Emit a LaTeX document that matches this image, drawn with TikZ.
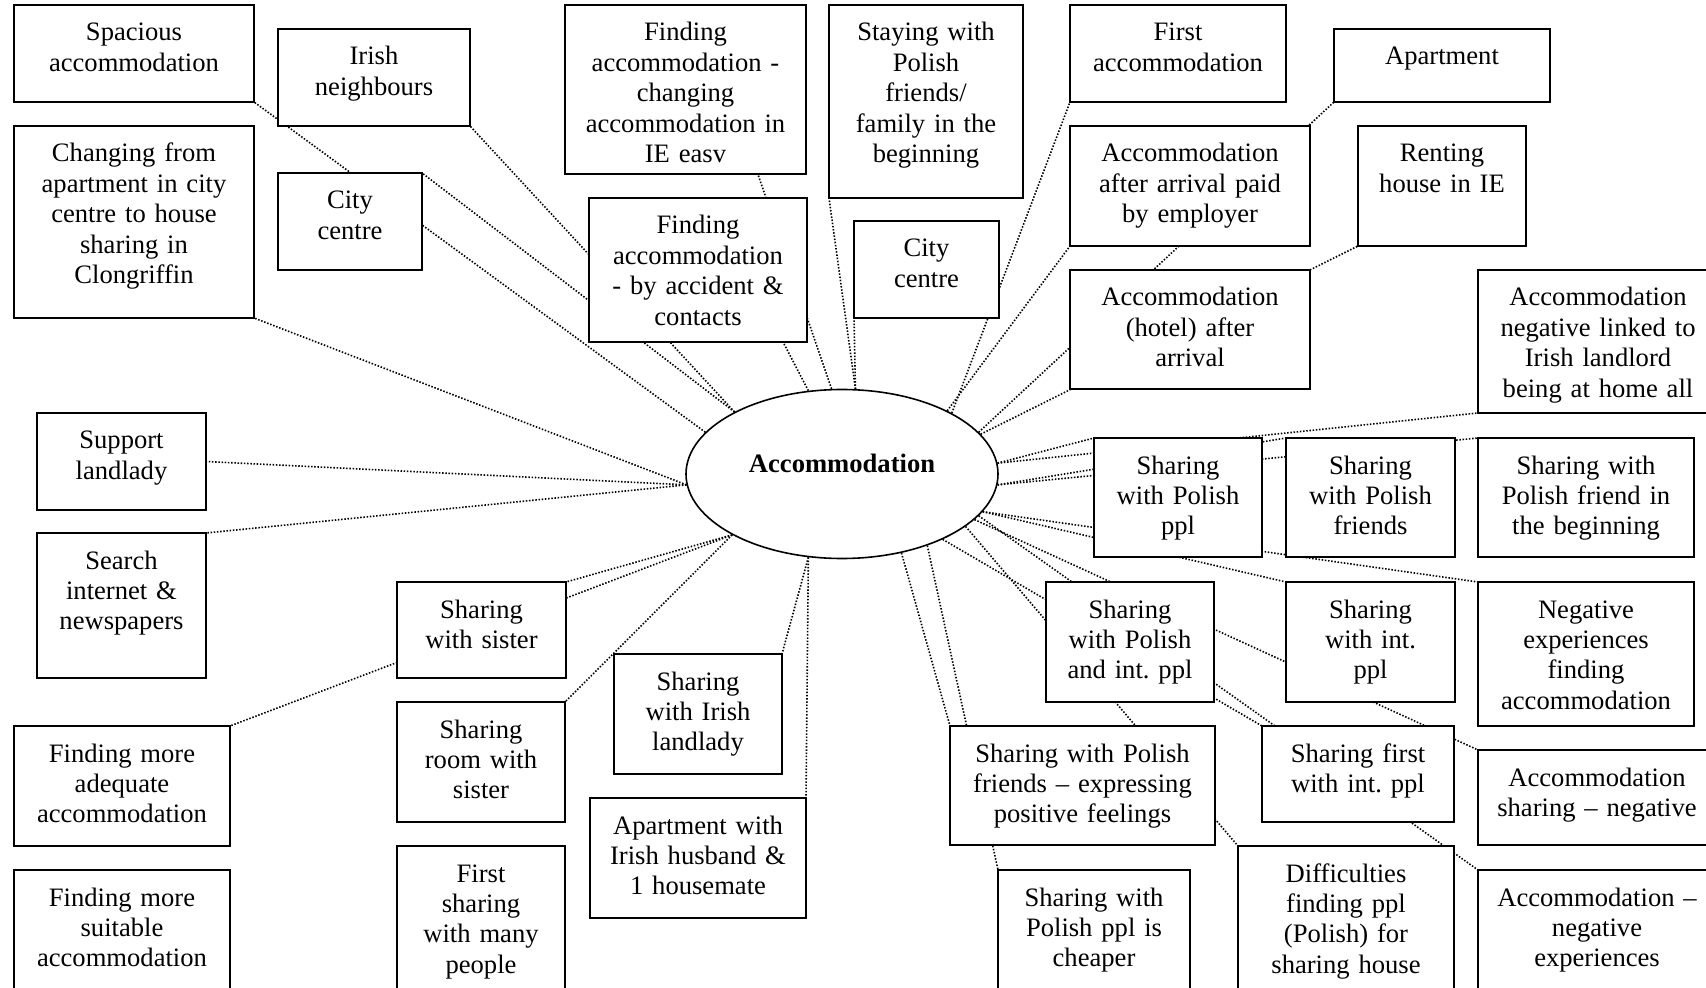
\documentclass[tikz,border=0pt]{standalone}
\usepackage{fontspec}
\setmainfont{Liberation Serif}
\usetikzlibrary{shapes.geometric,calc}
\pgfdeclarelayer{back}
\pgfdeclarelayer{lines}
\pgfsetlayers{back,lines,main}
\frenchspacing
\newcommand\mkbox[6]{%
  \node[boxst, anchor=north west, minimum width={(#4-#2)*0.5}, minimum height={(#5-#3)*0.5}] (#1) at (#2,#3) {};
  \node[txt, anchor=base] (#1t) at ({(#2+#4)/2},{#3+36}) {#6};
}
\tikzset{
  boxst/.style={draw, line width=0.8pt, fill=white, inner sep=0pt, outer sep=0pt},
  txt/.style={font=\fontsize{13.3}{15.2}\selectfont\frenchspacing, align=center, text width=170pt, inner sep=0pt},
  conn/.style={line width=0.8pt, dash pattern=on 0.75pt off 0.85pt},
}
\begin{document}
\begin{tikzpicture}[x=0.5pt,y=-0.5pt]
\begin{pgfonlayer}{back}
\fill[white] (0,0) rectangle (1706,988);
\end{pgfonlayer}
\useasboundingbox (0,0) rectangle (1706,988);

% ellipse
\node[draw, ellipse, line width=0.8pt, fill=white, minimum width=156pt, minimum height=84.5pt, inner sep=0pt] (acc) at (842,474) {};
\node[font=\fontsize{13.3}{15.2}\selectfont\bfseries, anchor=base, inner sep=0pt] (acct) at (842,473) {Accommodation};

% boxes
\mkbox{spac}{14}{5}{254}{102}{Spacious\\accommodation}
\mkbox{irish}{278}{29}{470}{126}{Irish\\neighbours}
\mkbox{chang}{14}{126}{254}{318}{Changing from\\apartment in city\\centre to house\\sharing in\\Clongriffin}
\mkbox{cityA}{278}{173}{422}{270}{City\\centre}
\mkbox{findA}{565}{5}{806}{174}{Finding\\accommodation -\\changing\\accommodation in\\IE easv}
\mkbox{findB}{589}{198}{807}{342}{Finding\\accommodation\\- by accident \&\\contacts}
\mkbox{stay}{829}{5}{1023}{198}{Staying with\\Polish\\friends/\\family in the\\beginning}
\mkbox{cityB}{854}{221}{999}{318}{City\\centre}
\mkbox{first}{1070}{5}{1286}{102}{First\\accommodation}
\mkbox{apt}{1334}{29}{1550}{102}{Apartment}
\mkbox{paid}{1070}{126}{1310}{246}{Accommodation\\after arrival paid\\by employer}
\mkbox{rent}{1358}{126}{1526}{246}{Renting\\house in IE}
\mkbox{hotel}{1070}{270}{1310}{389}{Accommodation\\(hotel) after\\arrival}
\mkbox{neglink}{1478}{270}{1718}{413}{Accommodation\\negative linked to\\Irish landlord\\being at home all}
\mkbox{support}{37}{413}{206}{510}{Support\\landlady}
\mkbox{search}{37}{533}{206}{678}{Search\\internet \&\\newspapers}
\mkbox{sister}{397}{582}{566}{678}{Sharing\\with sister}
\mkbox{adequate}{14}{726}{230}{846}{Finding more\\adequate\\accommodation}
\mkbox{suitable}{14}{870}{230}{1000}{Finding more\\suitable\\accommodation}
\mkbox{roomsis}{397}{702}{565}{822}{Sharing\\room with\\sister}
\mkbox{many}{397}{846}{565}{1000}{First\\sharing\\with many\\people}
\mkbox{landlady}{614}{654}{782}{774}{Sharing\\with Irish\\landlady}
\mkbox{husb}{590}{798}{806}{918}{Apartment with\\Irish husband \&\\1 housemate}
\mkbox{shpol}{1094}{438}{1262}{557}{Sharing\\with Polish\\ppl}
\mkbox{shpolfr}{1286}{438}{1455}{557}{Sharing\\with Polish\\friends}
\mkbox{shpolbeg}{1478}{438}{1694}{557}{Sharing with\\Polish friend in\\the beginning}
\mkbox{shpolint}{1046}{582}{1214}{702}{Sharing\\with Polish\\and int. ppl}
\mkbox{shint}{1286}{582}{1455}{702}{Sharing\\with int.\\ppl}
\mkbox{negexp}{1478}{582}{1694}{726}{Negative\\experiences\\finding\\accommodation}
\mkbox{shpolpos}{950}{726}{1215}{845}{Sharing with Polish\\friends – expressing\\positive feelings}
\mkbox{shfirst}{1262}{726}{1454}{822}{Sharing first\\with int. ppl}
\mkbox{accshneg}{1478}{750}{1716}{845}{Accommodation\\sharing – negative}
\mkbox{cheaper}{998}{870}{1190}{1000}{Sharing with\\Polish ppl is\\cheaper}
\mkbox{diff}{1238}{846}{1454}{1000}{Difficulties\\finding ppl\\(Polish) for\\sharing house}
\mkbox{accneg}{1478}{870}{1716}{1000}{Accommodation –\\negative\\experiences}

% connectors
\begin{pgfonlayer}{lines}
\draw[conn] (acc.163.2) -- (spac.south east);
\draw[conn] (acc.150.5) -- (irish.south east);
\draw[conn] (acc.150.5) -- (cityA.north east);
\draw[conn] (acc.184) -- (chang.south east);
\draw[conn] (acc.184) -- (support.east);
\draw[conn] (acc.184) -- (search.north east);
\draw[conn] (acc.97.9) -- ($(findA.south west)!0.8!(findA.south east)$);
\draw[conn] (acc.112.8) -- ($(findB.south west)!0.89!(findB.south east)$);
\draw[conn] (acc.81.7) -- (stay.south west);
\draw[conn] (acc.81.7) -- (cityB.south west);
\draw[conn] (acc.29.9) -- (first.south west);
\draw[conn] (acc.31) -- (paid.south west);
\draw[conn] (acc.17.7) -- (apt.south west);
\draw[conn] (acc.16.4) -- (rent.south west);
\draw[conn] (acc.4.4) -- (neglink.south west);
\draw[conn] (acc.4.4) -- (shpol.north west);
\draw[conn] (acc.-4) -- (shpolfr.north west);
\draw[conn] (acc.-4) -- (shpolbeg.north west);
\draw[conn] (acc.-15.5) -- (negexp.north west);
\draw[conn] (acc.-15.5) -- (shint.north west);
\draw[conn] (acc.-19.1) -- (accshneg.north west);
\draw[conn] (acc.-17.9) -- (accneg.north west);
\draw[conn] (acc.-23.1) -- (diff.north west);
\draw[conn] (acc.-33.3) -- (shfirst.north west);
\draw[conn] (acc.-40.3) -- (cheaper.north west);
\draw[conn] (acc.-53.4) -- (shpolpos.north west);
\draw[conn] (acc.-112.7) -- (landlady.north east);
\draw[conn] (acc.-112.7) -- (husb.north east);
\draw[conn] (acc.209.2) -- (sister.north east);
\draw[conn] (acc.209.4) -- (adequate.north east);
\draw[conn] (acc.209.4) -- (roomsis.north east);
\end{pgfonlayer}
\end{tikzpicture}
\end{document}
